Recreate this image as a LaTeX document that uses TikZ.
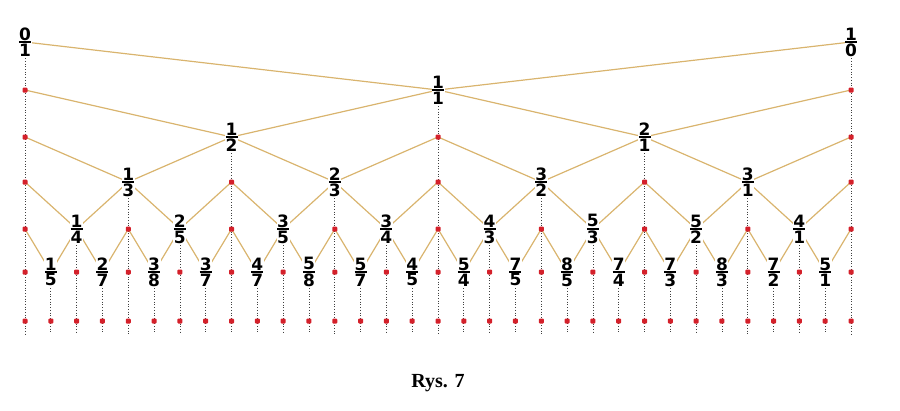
\documentclass[tikz,border=0pt]{standalone}
\usepackage{fontspec}
\setmainfont{Liberation Serif}
\newfontfamily\digitfont{DejaVu Sans}
\definecolor{treeline}{HTML}{D9B46E}
\definecolor{dotred}{HTML}{D4202A}
\newcommand{\fr}[2]{\vbox{\hbox to 12pt{\hss#1\hss}\kern0.6pt\hrule height2pt\kern0.8pt\hbox to 12pt{\hss#2\hss}}}
\tikzset{
  treeedge/.style={draw=treeline, line width=1.2pt},
  dropline/.style={draw=black!75, dotted, line width=0.7pt},
  reddot/.style={rectangle, rounded corners=1pt, fill=dotred, inner sep=0pt, minimum size=5pt},
  fracnode/.style={fill=white, inner sep=0.5pt, font=\digitfont\bfseries\fontsize{17}{17}\selectfont}
}
\begin{document}
\begin{tikzpicture}[x=1pt, y=-1pt]
  \useasboundingbox (0,0) rectangle (900,410);
  % grid of points: row r, column c
  \foreach \r in {0,...,6} {
    \pgfmathsetmacro{\ry}{{42,90,137,182,229,272,321}[\r]}
    \foreach \c in {0,...,32}
      \coordinate (p-\r-\c) at ({25+\c*25.8125},\ry);
  }
  \foreach \c in {0,...,32}
    \coordinate (b-\c) at ({25+\c*25.8125},334);

  % dotted drops
  \draw[dropline] (p-0-0) -- (b-0);
  \draw[dropline] (p-0-32) -- (b-32);
  \foreach \r in {1,...,5} {
    \pgfmathtruncatemacro{\h}{2^(5-\r)}
    \pgfmathtruncatemacro{\n}{2^(\r-1)}
    \foreach \i in {1,...,\n} {
      \pgfmathtruncatemacro{\c}{(2*\i-1)*\h}
      \draw[dropline] (p-\r-\c) -- (b-\c);
    }
  }

  % zigzag edges
  \foreach \r in {1,...,5} {
    \pgfmathtruncatemacro{\h}{2^(5-\r)}
    \pgfmathtruncatemacro{\n}{2^(\r-1)}
    \pgfmathtruncatemacro{\q}{\r-1}
    \foreach \i in {1,...,\n} {
      \pgfmathtruncatemacro{\c}{(2*\i-1)*\h}
      \pgfmathtruncatemacro{\cl}{\c-\h}
      \pgfmathtruncatemacro{\cr}{\c+\h}
      \draw[treeedge] (p-\q-\cl) -- (p-\r-\c) -- (p-\q-\cr);
    }
  }

  % red dots
  \foreach \r in {1,...,6} {
    \pgfmathtruncatemacro{\s}{2^(6-\r)}
    \pgfmathtruncatemacro{\n}{2^(\r-1)}
    \foreach \k in {0,...,\n} {
      \pgfmathtruncatemacro{\c}{\k*\s}
      \node[reddot] (d-\r-\c) at (p-\r-\c) {};
    }
  }

  % fractions
  \node[fracnode] (f-0-0) at (p-0-0) {\fr{0}{1}};
  \node[fracnode] (f-0-32) at (p-0-32) {\fr{1}{0}};
  \node[fracnode] (f-1-16) at (p-1-16) {\fr{1}{1}};
  \foreach \a/\b [count=\i] in {1/2,2/1} {
    \pgfmathtruncatemacro{\c}{(2*\i-1)*8}
    \node[fracnode] (f-2-\c) at (p-2-\c) {\fr{\a}{\b}};
  }
  \foreach \a/\b [count=\i] in {1/3,2/3,3/2,3/1} {
    \pgfmathtruncatemacro{\c}{(2*\i-1)*4}
    \node[fracnode] (f-3-\c) at (p-3-\c) {\fr{\a}{\b}};
  }
  \foreach \a/\b [count=\i] in {1/4,2/5,3/5,3/4,4/3,5/3,5/2,4/1} {
    \pgfmathtruncatemacro{\c}{(2*\i-1)*2}
    \node[fracnode] (f-4-\c) at (p-4-\c) {\fr{\a}{\b}};
  }
  \foreach \a/\b [count=\i] in {1/5,2/7,3/8,3/7,4/7,5/8,5/7,4/5,5/4,7/5,8/5,7/4,7/3,8/3,7/2,5/1} {
    \pgfmathtruncatemacro{\c}{2*\i-1}
    \node[fracnode] (f-5-\c) at (p-5-\c) {\fr{\a}{\b}};
  }

  % caption
  \node[font=\bfseries\fontsize{20}{20}\selectfont] (caption) at (438,383) {Rys. 7};
\end{tikzpicture}
\end{document}
